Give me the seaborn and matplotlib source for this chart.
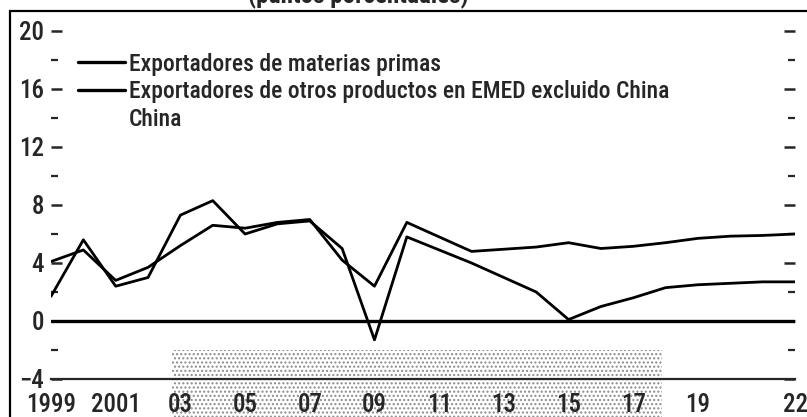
import numpy as np
import pandas as pd
import seaborn as sns
import matplotlib.pyplot as plt
from matplotlib.patches import Rectangle
from matplotlib.lines import Line2D
from matplotlib.ticker import FixedLocator

years = list(range(1999, 2023))
materias_primas = [1.7, 5.6, 2.4, 3.0, 7.3, 8.3, 6.0, 6.7, 6.9, 5.0, -1.3, 5.8,
                   4.9, 4.0, 3.0, 2.0, 0.1, 1.0, 1.6, 2.3, 2.5, 2.6, 2.7, 2.7]
otros_productos = [4.1, 4.9, 2.8, 3.7, 5.2, 6.6, 6.4, 6.8, 7.0, 4.2, 2.4, 6.8,
                   5.8, 4.8, 4.95, 5.1, 5.4, 5.0, 5.15, 5.4, 5.7, 5.85, 5.9, 6.0]
labels = ['Exportadores de materias primas',
          'Exportadores de otros productos en EMED excluido China',
          'China']
tick_text = {1999: '1999', 2001: '2001', 2003: '03', 2005: '05', 2007: '07',
             2009: '09', 2011: '11', 2013: '13', 2015: '15', 2017: '17',
             2019: '19', 2022: '22'}

df = pd.DataFrame({'year': years * 2,
                   'valor': materias_primas + otros_productos,
                   'serie': [labels[0]] * len(years) + [labels[1]] * len(years)})

sns.set_style('white')
plt.rcParams['font.family'] = ['Roboto Condensed', 'DejaVu Sans']
plt.rcParams['font.weight'] = 'medium'

fig = plt.figure(figsize=(8.07, 4.17), dpi=100)
ax = fig.add_axes([51 / 807, 1 - 379 / 417, 744 / 807, 362.5 / 417])

sns.lineplot(data=df, x='year', y='valor', hue='serie',
             palette=['black', 'black'], linewidth=2.0, legend=False, ax=ax)
ax.axhline(0, color='black', linewidth=2.4, zorder=3)

# dotted band under the axis
ax.add_patch(Rectangle((2002.75, -8), 2017.9 - 2002.75, 6.0, facecolor='white',
                       edgecolor='#8a8a8a', hatch='....', linewidth=0,
                       clip_on=False, zorder=0.5))

ax.set_xlim(1999, 2022)
ax.set_ylim(-4, 21)
ax.set_xlabel('')
ax.set_ylabel('')
for s in ['top', 'left', 'right']:
    ax.spines[s].set_visible(False)
ax.spines['bottom'].set_linewidth(1.6)

ax.xaxis.set_major_locator(FixedLocator(years))
ax.set_xticklabels([tick_text.get(y, '') for y in years])
ax.yaxis.set_major_locator(FixedLocator([-4, 0, 4, 8, 12, 16, 20]))
ax.set_yticklabels(['\u22124', '0', '4', '8', '12', '16', '20'])
ax.yaxis.set_minor_locator(FixedLocator([-2, 2, 6, 10, 14, 18]))

ax.tick_params(axis='x', direction='in', length=6, width=1.6, pad=10,
               labelsize=18)
ax.tick_params(axis='y', which='major', direction='in', length=8, width=1.8,
               pad=5, labelsize=18, right=True, left=True)
ax.tick_params(axis='y', which='minor', direction='in', length=5, width=1.6,
               right=True, left=True)

handles = [Line2D([], [], color='black', linewidth=2.4),
           Line2D([], [], color='black', linewidth=2.4),
           Line2D([], [], linestyle='none')]
ax.legend(handles, labels, loc='upper left', bbox_to_anchor=(0.036, 0.9),
          frameon=False, fontsize=17, handlelength=2.0, handletextpad=0.15,
          labelspacing=0.2, borderaxespad=0, borderpad=0)

# outer frame and clipped title
fig.add_artist(Rectangle((10 / 807, -0.1), 1.0, 1.1 - 11 / 417, fill=False,
                         edgecolor='black', linewidth=1.6,
                         transform=fig.transFigure))
fig.text(358 / 807, 1 - 3 / 417, '(puntos porcentuales)', ha='center',
         va='baseline', fontsize=18, fontweight='bold')

fig.savefig('out.png', dpi=100)
